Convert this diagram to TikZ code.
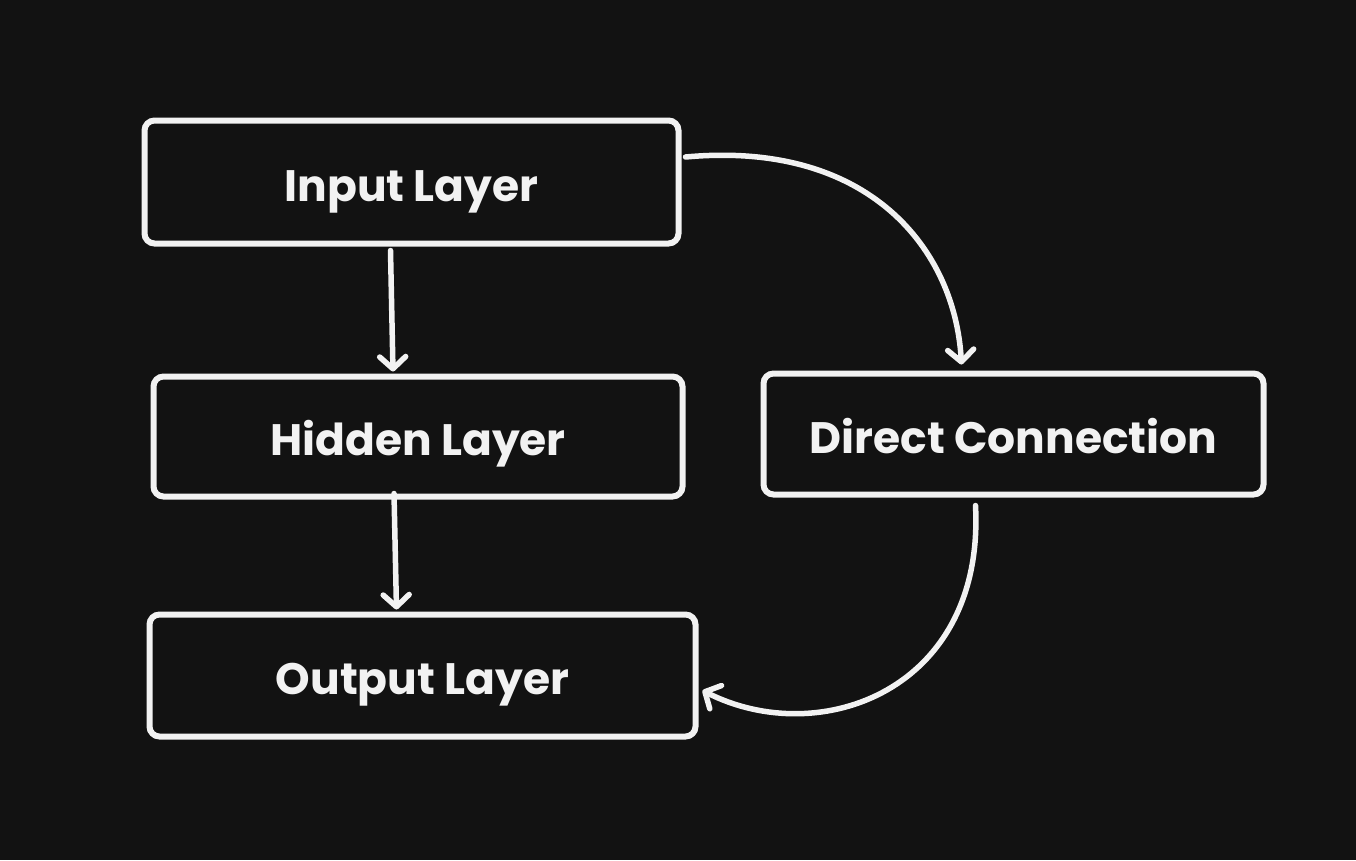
\documentclass[tikz,border=0pt]{standalone}
\usepackage{fontspec}
\setmainfont{Poppins}
\usetikzlibrary{arrows.meta}
\definecolor{bg}{HTML}{121212}
\definecolor{fg}{HTML}{F2F2F2}
\begin{document}
\begin{tikzpicture}[x=1pt,y=-1pt,
  box/.style={draw=fg,line width=6pt,rounded corners=10pt,fill=bg,text=fg,inner sep=0pt,text height=40pt,text depth=2pt,font=\fontsize{44}{50}\selectfont\bfseries},
  conn/.style={draw=fg,line width=5.5pt,line cap=round,-{Straight Barb[length=12pt,width=26pt,line width=5.5pt,round]}}]
\fill[bg] (0,0) rectangle (1356,860);
\useasboundingbox (0,0) rectangle (1356,860);
\node[box,minimum width=534pt,minimum height=123pt] (in) at (411.5,182) {Input Layer};
\node[box,minimum width=529pt,minimum height=120pt] (hid) at (418,436.5) {Hidden Layer};
\node[box,minimum width=546pt,minimum height=122pt] (out) at (422.5,675.5) {Output Layer};
\node[box,minimum width=500pt,minimum height=121pt] (dir) at (1013.5,434) {Direct Connection};
\draw[conn] ([xshift=-21pt,yshift=-4pt]in.south) -- ([xshift=-25pt,yshift=2pt]hid.north);
\draw[conn] ([xshift=-24pt,yshift=6pt]hid.south) -- ([xshift=-26pt,yshift=2pt]out.north);
\draw[conn] ([xshift=4pt,yshift=25pt]in.east) .. controls (870,140) and (955,250) .. ([xshift=-52pt,yshift=6pt]dir.north);
\draw[conn] ([xshift=-38pt,yshift=-8pt]dir.south) .. controls (985,690) and (820,750) .. ([xshift=4pt,yshift=-15pt]out.east);
\end{tikzpicture}
\end{document}
